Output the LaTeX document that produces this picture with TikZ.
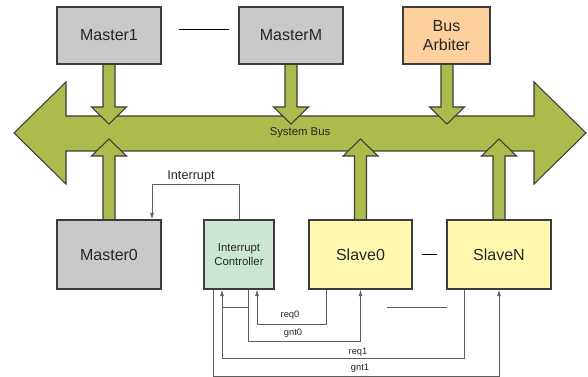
\documentclass[tikz,border=0pt]{standalone}
\usepackage{fontspec}
\setmainfont{Liberation Sans}
\usetikzlibrary{arrows.meta,calc}
\definecolor{busgreen}{HTML}{ADBA4C}
\definecolor{boxgray}{HTML}{C8C9CB}
\definecolor{arbpeach}{HTML}{FDD09D}
\definecolor{icgreen}{HTML}{CCE6D4}
\definecolor{slaveyel}{HTML}{FFF8AE}
\definecolor{edgegray}{HTML}{3C3C3C}
\definecolor{wiregray}{HTML}{5E5E5E}
\tikzset{
  every picture/.style={line join=miter, >=Latex},
  unit/.style={draw=edgegray, line width=0.8pt, minimum height=42.75pt,
    align=center, text=black!85, font=\fontsize{12}{13}\selectfont},
  master/.style={unit, fill=boxgray, minimum width=78pt},
  slave/.style={unit, fill=slaveyel, minimum width=77.25pt, minimum height=51.75pt},
  wire/.style={draw=wiregray, line width=0.7pt},
  sig/.style={font=\fontsize{7}{8}\selectfont, text=black!85},
  bus/.style={draw=edgegray, fill=busgreen, line width=0.8pt},
}
\begin{document}
\begin{tikzpicture}[x=0.75pt,y=-0.75pt]
\useasboundingbox (0,0) rectangle (588,377);

% system bus, double headed
\draw[bus] (14,133)--(66,82)--(66,116)--(534,116)--(534,82)--(586,133)
  --(534,184)--(534,151)--(66,151)--(66,184)--cycle;
\node[font=\fontsize{8.5}{9}\selectfont, text=black!85] (sysbus) at (300,133) {System Bus};

% masters and arbiter drive the bus
\foreach \x in {109,291,447}
  \draw[bus] (\x-6,60)--(\x+6,60)--(\x+6,107)--(\x+17.5,107)--(\x,124)
    --(\x-17.5,107)--(\x-6,107)--cycle;
% bus to master0 and the slaves
\foreach \x in {109,360.5,499}
  \draw[bus] (\x-6,224)--(\x+6,224)--(\x+6,156)--(\x+17.5,156)--(\x,139)
    --(\x-17.5,156)--(\x-6,156)--cycle;

\node[master] (m1) at (109,35.5) {Master1};
\node[master] (mm) at (291,35.5) {MasterM};
\node[unit, fill=arbpeach, minimum width=65.25pt,
  font=\fontsize{12}{14}\selectfont] (arb) at (446.5,35.5) {Bus\\Arbiter};
\node[master, minimum height=51.75pt] (m0) at (109,254.5) {Master0};
\node[unit, fill=icgreen, minimum width=52.5pt, minimum height=51.75pt,
  font=\fontsize{8.5}{10.5}\selectfont] (ic) at (239,254.5) {Interrupt\\Controller};
\node[slave] (s0) at (360.5,254.5) {Slave0};
\node[slave, minimum width=78pt] (sn) at (499,254.5) {SlaveN};

% continuation marks
\draw[wire, draw=black] ($(m1.east)+(17,-6.5)$) -- ($(mm.west)+(-9,-6.5)$);
\draw[wire, draw=black] ($(s0.east)+(9,0)$) -- ($(sn.west)+(-9,0)$);
\draw[wire] (387,307) -- (447,307);

% interrupt line
\draw[wire,-{Latex[length=5pt,width=3pt]}] (ic.north) |- ($(m0.north)+(43,-35)$)
  -- ($(m0.north)+(43,0)$);
\node[font=\fontsize{9.5}{10}\selectfont, text=black!85] (lirq) at (191,176) {Interrupt};

% request / grant wires
\draw[wire,-{Latex[length=5pt,width=3pt]}] ($(s0.south)+(-34.5,0)$) |- ($(ic.south)+(18,35)$)
  -- ($(ic.south)+(18,0)$);
\draw[wire,-{Latex[length=5pt,width=3pt]}] ($(ic.south)+(9,0)$) |- ($(s0.south)+(0,52)$)
  -- (s0.south);
\draw[wire,-{Latex[length=5pt,width=3pt]}] ($(sn.south)+(-35,0)$) |- ($(ic.south)+(-17,69)$)
  -- ($(ic.south)+(-17,0)$);
\draw[wire,-{Latex[length=5pt,width=3pt]}] ($(ic.south)+(-26,0)$) |- ($(sn.south)+(0,87)$)
  -- (sn.south);
\draw[wire] ($(ic.south)+(-17,18)$) -- ($(ic.south)+(9,18)$);

\node[sig] (lreq0) at (290,315) {req0};
\node[sig] (lgnt0) at (293,333) {gnt0};
\node[sig] (lreq1) at (358,352) {req1};
\node[sig] (lgnt1) at (360,368) {gnt1};
\end{tikzpicture}
\end{document}
